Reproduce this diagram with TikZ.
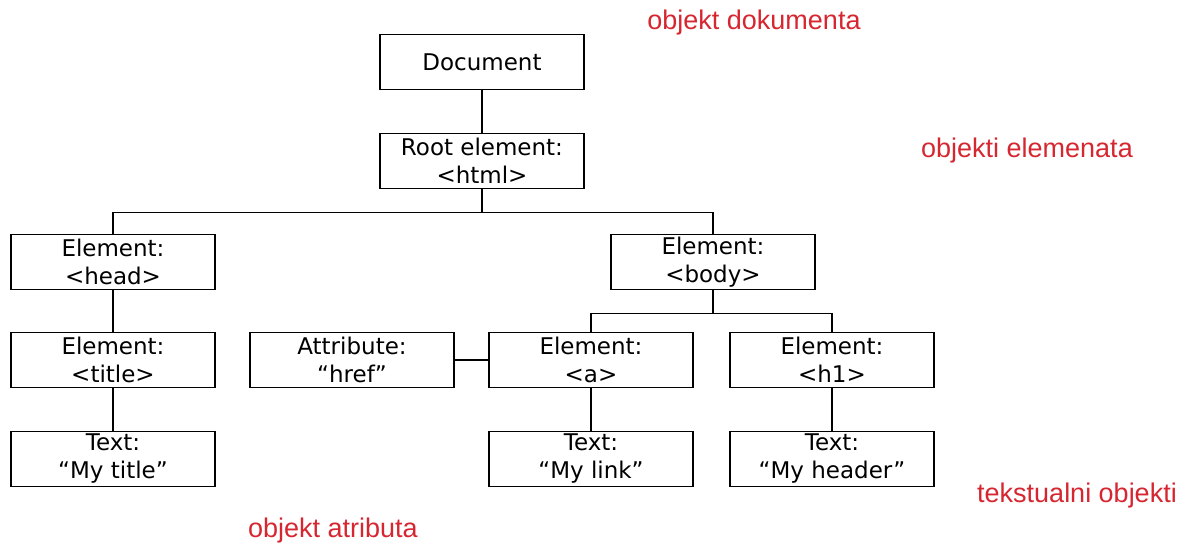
\documentclass[tikz,border=0pt]{standalone}
\usepackage{fontspec}
\setmainfont{DejaVu Sans}
\newfontfamily\notefont{Liberation Sans}
\definecolor{notered}{RGB}{214,38,48}

\begin{document}
\begin{tikzpicture}[x = 1pt, y = -1pt,
    box/.style = {draw, line width = 1.6pt, minimum width = 204pt, minimum height = 55pt,
        inner sep = 0pt, align = center, font = \fontsize{23}{28}\selectfont},
    link/.style = {line width = 1.6pt},
    note/.style = {text = notered, font = \notefont\fontsize{27}{30}\selectfont, inner sep = 0pt}]
    \useasboundingbox (0,0) rectangle (1184,546);
    % tree of objects
    \node[box] (doc)   at (482,62)  {Document};
    \node[box] (root)  at (482,161) {Root element:\\<html>};
    \node[box] (head)  at (113,262) {Element:\\<head>};
    \node[box] (body)  at (713,262) {Element:\\<body>};
    \node[box] (title) at (113,360) {Element:\\<title>};
    \node[box] (href)  at (352,360) {Attribute:\\“href”};
    \node[box] (a)     at (591,360) {Element:\\<a>};
    \node[box] (hone)  at (832,360) {Element:\\<h1>};
    \node[box] (ttitle) at (113,459) {Text:\\“My title”};
    \node[box] (tlink)  at (591,459) {Text:\\“My link”};
    \node[box] (thead)  at (832,459) {Text:\\“My header”};
    % connectors
    \draw[link] (doc) -- (root);
    \draw[link] (root.south) -- ++(0,23) -| (head.north);
    \draw[link] (root.south) -- ++(0,23) -| (body.north);
    \draw[link] (body.south) -- ++(0,23) -| (a.north);
    \draw[link] (body.south) -- ++(0,23) -| (hone.north);
    \draw[link] (head) -- (title);
    \draw[link] (title) -- (ttitle);
    \draw[link] (href) -- (a);
    \draw[link] (a) -- (tlink);
    \draw[link] (hone) -- (thead);
    % notes
    \node[note] (ndoc)  at (754,23)  {objekt dokumenta};
    \node[note] (nelem) at (1027,151) {objekti elemenata};
    \node[note] (ntext) at (1077,496) {tekstualni objekti};
    \node[note] (nattr) at (333,531) {objekt atributa};
\end{tikzpicture}
\end{document}
